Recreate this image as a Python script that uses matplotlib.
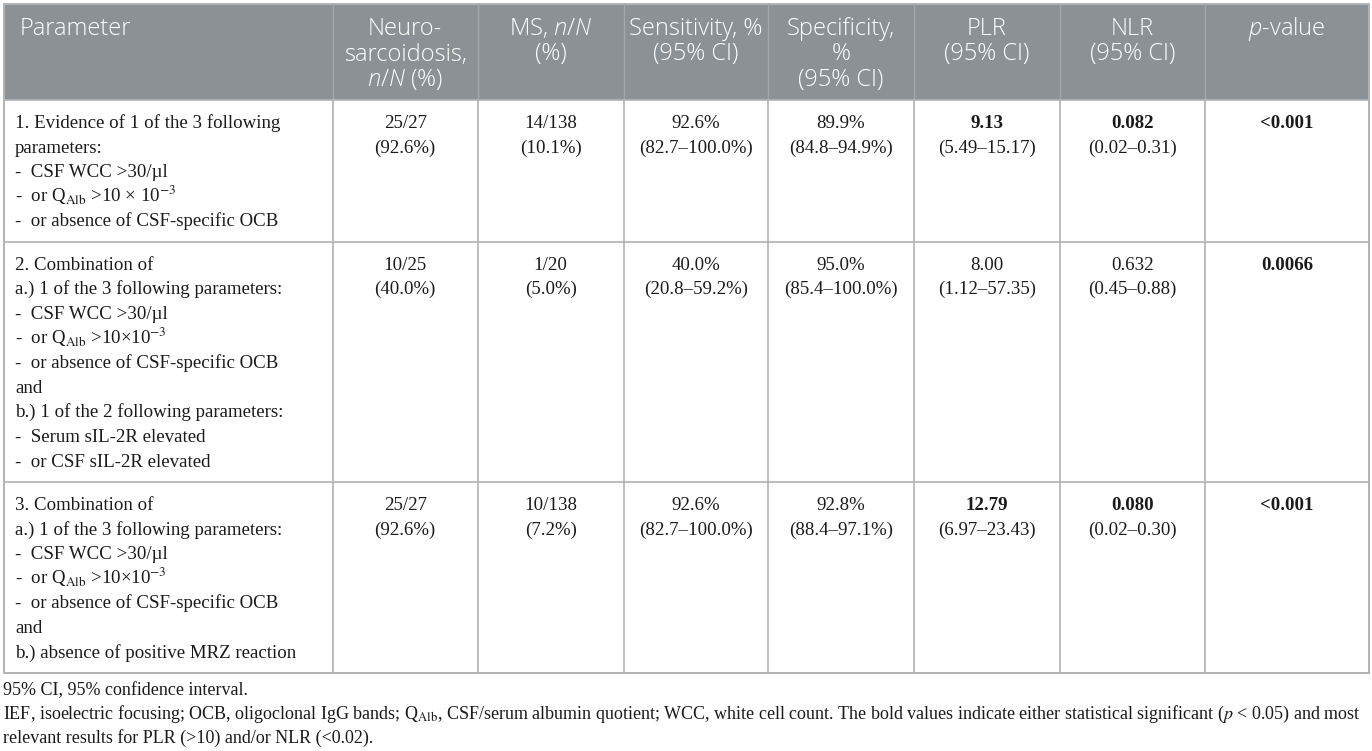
import matplotlib.pyplot as plt
from matplotlib.patches import Rectangle

plt.rcParams['mathtext.fontset'] = 'custom'
plt.rcParams['mathtext.rm'] = 'Open Sans:light'
plt.rcParams['mathtext.it'] = 'Open Sans:italic:light'

# ---- table content ----
header_labels = [
    ["Parameter"],
    ["Neuro-", "sarcoidosis,", "$n$/$N$ (%)"],
    ["MS, $n$/$N$", "(%)"],
    ["Sensitivity, %", "(95% CI)"],
    ["Specificity,", "%", "(95% CI)"],
    ["PLR", "(95% CI)"],
    ["NLR", "(95% CI)"],
    ["$p$-value"],
]

criteria = [
    ["1. Evidence of 1 of the 3 following",
     "parameters:",
     "-  CSF WCC >30/µl",
     "-  or Q$_{\\mathrm{Alb}}$ >10 × 10$^{-3}$",
     "-  or absence of CSF-specific OCB"],
    ["2. Combination of",
     "a.) 1 of the 3 following parameters:",
     "-  CSF WCC >30/µl",
     "-  or Q$_{\\mathrm{Alb}}$ >10×10$^{-3}$",
     "-  or absence of CSF-specific OCB",
     "and",
     "b.) 1 of the 2 following parameters:",
     "-  Serum sIL-2R elevated",
     "-  or CSF sIL-2R elevated"],
    ["3. Combination of",
     "a.) 1 of the 3 following parameters:",
     "-  CSF WCC >30/µl",
     "-  or Q$_{\\mathrm{Alb}}$ >10×10$^{-3}$",
     "-  or absence of CSF-specific OCB",
     "and",
     "b.) absence of positive MRZ reaction"],
]

neuro_n = ["25/27", "10/25", "25/27"]
neuro_pct = ["(92.6%)", "(40.0%)", "(92.6%)"]
ms_n = ["14/138", "1/20", "10/138"]
ms_pct = ["(10.1%)", "(5.0%)", "(7.2%)"]
sens = ["92.6%", "40.0%", "92.6%"]
sens_ci = ["(82.7–100.0%)", "(20.8–59.2%)", "(82.7–100.0%)"]
spec = ["89.9%", "95.0%", "92.8%"]
spec_ci = ["(84.8–94.9%)", "(85.4–100.0%)", "(88.4–97.1%)"]
plr = ["9.13", "8.00", "12.79"]
plr_ci = ["(5.49–15.17)", "(1.12–57.35)", "(6.97–23.43)"]
plr_bold = [True, False, True]
nlr = ["0.082", "0.632", "0.080"]
nlr_ci = ["(0.02–0.31)", "(0.45–0.88)", "(0.02–0.30)"]
nlr_bold = [True, False, True]
p_values = ["<0.001", "0.0066", "<0.001"]

footnotes = [
    "95% CI, 95% confidence interval.",
    "IEF, isoelectric focusing; OCB, oligoclonal IgG bands; Q$_{\\mathrm{Alb}}$, CSF/serum albumin quotient; "
    "WCC, white cell count. The bold values indicate either statistical significant ($p$ < 0.05) and most",
    "relevant results for PLR (>10) and/or NLR (<0.02).",
]

# ---- layout ----
W, H = 1372, 751
col_edges = [3.5, 332.6, 477.7, 623.7, 768, 914, 1059.5, 1205, 1368.5]
top, head_bottom = 3.5, 100
line_h, pad = 24.6, 18.8
grid_col = "#b2b2b2"
head_col = "#8b9195"

body_font = dict(family="Liberation Serif", size=13.6, color="#1a1a1a", math_fontfamily="stix")
head_font = dict(family="Open Sans", size=17, weight="light", color="white", math_fontfamily="custom")

fig = plt.figure(figsize=(W / 100, H / 100), dpi=100)
ax = fig.add_axes([0, 0, 1, 1])
ax.set_xlim(0, W)
ax.set_ylim(H, 0)
ax.axis("off")

row_tops = [head_bottom]
for lines in criteria:
    row_tops.append(row_tops[-1] + pad + len(lines) * line_h)
table_bottom = row_tops[-1]

# header band
ax.add_patch(Rectangle((col_edges[0], top), col_edges[-1] - col_edges[0], head_bottom - top,
                       facecolor=head_col, edgecolor="none"))
for x in col_edges[1:-1]:
    ax.plot([x, x], [top, head_bottom], color="#a3a8ab", lw=1.0)

# body grid
for x in col_edges[1:-1]:
    ax.plot([x, x], [head_bottom, table_bottom], color=grid_col, lw=1.2)
for y in row_tops[:-1]:
    ax.plot([col_edges[0], col_edges[-1]], [y, y], color=grid_col, lw=1.2)
ax.add_patch(Rectangle((col_edges[0], top), col_edges[-1] - col_edges[0], table_bottom - top,
                       facecolor="none", edgecolor=grid_col, lw=1.4))

centers = [(a + b) / 2 for a, b in zip(col_edges[:-1], col_edges[1:])]

# header text
for j, lines in enumerate(header_labels):
    for i, s in enumerate(lines):
        y = 35 + i * 25.5
        if j == 0:
            ax.text(20, y, s, ha="left", va="baseline", **head_font)
        else:
            ax.text(centers[j], y, s, ha="center", va="baseline", **head_font)

# body text
value_cols = [
    (neuro_n, neuro_pct, [False] * 3),
    (ms_n, ms_pct, [False] * 3),
    (sens, sens_ci, [False] * 3),
    (spec, spec_ci, [False] * 3),
    (plr, plr_ci, plr_bold),
    (nlr, nlr_ci, nlr_bold),
]
for r, lines in enumerate(criteria):
    y0 = row_tops[r] + 28
    for i, s in enumerate(lines):
        ax.text(15, y0 + i * line_h, s, ha="left", va="baseline", **body_font)
    for c, (vals, cis, bold) in enumerate(value_cols):
        cx = centers[c + 1]
        ax.text(cx, y0, vals[r], ha="center", va="baseline",
                fontweight="bold" if bold[r] else "normal", **body_font)
        ax.text(cx, y0 + line_h, cis[r], ha="center", va="baseline", **body_font)
    ax.text(centers[7], y0, p_values[r], ha="center", va="baseline", fontweight="bold", **body_font)

# footnotes
for i, s in enumerate(footnotes):
    ax.text(3, table_bottom + 22 + i * 24, s, ha="left", va="baseline",
            family="Liberation Serif", size=13.0, color="#1a1a1a", math_fontfamily="stix")

fig.savefig("out.png", dpi=100)
